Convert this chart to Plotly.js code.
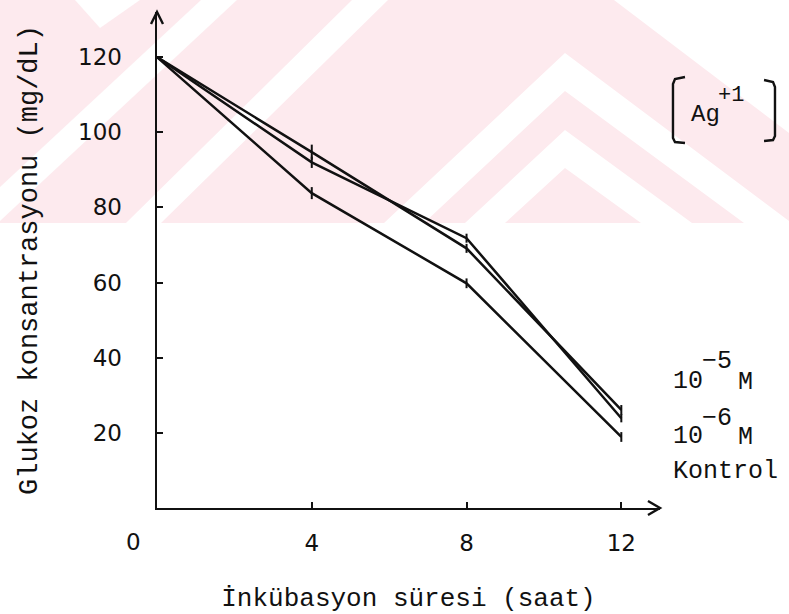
<!DOCTYPE html>
<html>
<head>
<meta charset="utf-8">
<script src="https://cdn.plot.ly/plotly-3.0.1.min.js"></script>
<style>
  html, body { margin: 0; padding: 0; background: #ffffff; }
  #chart { width: 789px; height: 614px; }
</style>
</head>
<body>
<div id="chart"></div>
<script>
// ---- data ----
const HOURS = [0, 4, 8, 12];
const AG_1E5 = [120, 94.7, 69.1, 26.1];
const AG_1E6 = [120, 92.0, 71.8, 23.9];
const KONTROL = [120, 83.8, 59.8, 18.9];
const ERR_1E5 = [0, 2.0, 1.2, 1.3];
const ERR_1E6 = [0, 1.5, 1.2, 1.1];
const ERR_KONTROL = [0, 1.6, 1.3, 1.3];
const X_TICKS = [4, 8, 12];
const X_TICK_LABELS = ['4', '8', '12'];
const Y_TICKS = [20, 40, 60, 80, 100, 120];
const Y_TICK_LABELS = ['20', '40', '60', '80', '100', '120'];
const SERIES_NAMES = ['10⁻⁵ M', '10⁻⁶ M', 'Kontrol'];

// ---- layout geometry ----
const W = 789, H = 614;
const M = { l: 157, r: 129, t: 12, b: 106 };
const PW = W - M.l - M.r, PH = H - M.t - M.b;
// pixel -> paper conversion for decorations only
function px(X) { return (X - M.l) / PW; }
function py(Y) { return (H - M.b - Y) / PH; }
function poly(pts) {
  return 'M ' + pts.map(p => px(p[0]).toFixed(4) + ',' + py(p[1]).toFixed(4)).join(' L ') + ' Z';
}
function pline(pts) {
  return 'M ' + pts.map(p => px(p[0]).toFixed(4) + ',' + py(p[1]).toFixed(4)).join(' L ');
}

const INK = '#111111';
const MONO = 'Liberation Mono, Courier New, monospace';
const SANS = 'DejaVu Sans, Verdana, sans-serif';
const PINK = 'rgb(253,234,238)';

function lineTrace(y, err, name) {
  return {
    x: HOURS, y: y, name: name, type: 'scatter', mode: 'lines',
    line: { color: INK, width: 2.5 },
    error_y: { type: 'data', array: err, visible: true, color: INK, thickness: 2, width: 0 },
    showlegend: false, hoverinfo: 'x+y+name'
  };
}

const traces = [
  lineTrace(AG_1E5, ERR_1E5, SERIES_NAMES[0]),
  lineTrace(AG_1E6, ERR_1E6, SERIES_NAMES[1]),
  lineTrace(KONTROL, ERR_KONTROL, SERIES_NAMES[2])
];

// watermark (scan background), decorative
const wm = [];
wm.push({ type: 'path', xref: 'paper', yref: 'paper', layer: 'below',
  path: poly([[0, 0], [W, 0], [W, 223], [0, 223]]), fillcolor: PINK, line: { width: 0 } });
const whites = [
  [[75, 0], [140, 0], [100, 28]],
  [[201, 0], [237, 0], [0, 221], [0, 187]],
  [[352, 0], [388, 0], [161, 223], [126, 223]],
  [[614, 0], [W, 0], [W, 133]],
  [[384, 223], [565, 53], [W, 221], [W, 223], [744, 223], [565, 91], [424, 223]],
  [[465, 223], [565, 130], [692, 223], [641, 223], [565, 168], [505, 223]]
];
whites.forEach(p => wm.push({ type: 'path', xref: 'paper', yref: 'paper', layer: 'below',
  path: poly(p), fillcolor: '#ffffff', line: { width: 0 } }));

const deco = [
  // axis arrowheads
  { type: 'path', xref: 'paper', yref: 'paper', path: pline([[151, 24], [157, 12], [163, 24]]),
    line: { color: INK, width: 2.4 } },
  { type: 'path', xref: 'paper', yref: 'paper', path: pline([[648, 501], [660, 508], [648, 515]]),
    line: { color: INK, width: 2.4 } },
  // brackets around Ag+1
  { type: 'path', xref: 'paper', yref: 'paper', path: pline([[685, 77], [675, 79], [673, 84], [673, 138], [675, 142], [685, 143]]),
    line: { color: INK, width: 2.4 } },
  { type: 'path', xref: 'paper', yref: 'paper', path: pline([[764, 80], [773, 82], [775, 87], [775, 136], [773, 140], [764, 141]]),
    line: { color: INK, width: 2.4 } }
];

function txt(X, Y, s, fam, size, anchor) {
  return { xref: 'paper', yref: 'paper', x: px(X), y: py(Y), text: s, showarrow: false,
    font: { family: fam, size: size, color: INK }, xanchor: anchor || 'left', yanchor: 'middle' };
}

const annotations = [
  txt(133, 542, '0', SANS, 23, 'center'),
  // [Ag+1]
  txt(689, 114, 'Ag', MONO, 24),
  txt(716, 95, '+1', MONO, 22),
  // series labels
  txt(671, 381, '10', MONO, 25),
  txt(700, 362, '−5', MONO, 25),
  txt(736, 382, 'M', MONO, 25),
  txt(671, 436, '10', MONO, 25),
  txt(700, 418, '−6', MONO, 25),
  txt(736, 437, 'M', MONO, 25),
  txt(671, 471, 'Kontrol', MONO, 25)
];

const layout = {
  width: W, height: H,
  margin: M,
  paper_bgcolor: '#ffffff',
  plot_bgcolor: 'rgba(0,0,0,0)',
  showlegend: false,
  xaxis: {
    range: [0, 13], showgrid: false, zeroline: false,
    showline: true, linecolor: INK, linewidth: 2.4,
    ticks: 'inside', ticklen: 6, tickwidth: 2, tickcolor: INK,
    tickvals: X_TICKS, ticktext: X_TICK_LABELS,
    tickfont: { family: SANS, size: 23, color: INK },
    ticklabelstandoff: 13,
    title: { text: 'İnkübasyon süresi (saat)', font: { family: MONO, size: 26, color: INK }, standoff: 35 },
    automargin: false, fixedrange: true
  },
  yaxis: {
    range: [0, 132], showgrid: false, zeroline: false,
    showline: true, linecolor: INK, linewidth: 2.4,
    ticks: 'inside', ticklen: 6, tickwidth: 2, tickcolor: INK,
    tickvals: Y_TICKS, ticktext: Y_TICK_LABELS,
    tickfont: { family: SANS, size: 23, color: INK },
    ticklabelstandoff: 28,
    title: { text: 'Glukoz konsantrasyonu (mg/dL)', font: { family: MONO, size: 27, color: INK }, standoff: 33 },
    automargin: false, fixedrange: true
  },
  shapes: wm.concat(deco),
  annotations: annotations
};

Plotly.newPlot('chart', traces, layout, { displayModeBar: false, staticPlot: true });
</script>
</body>
</html>
